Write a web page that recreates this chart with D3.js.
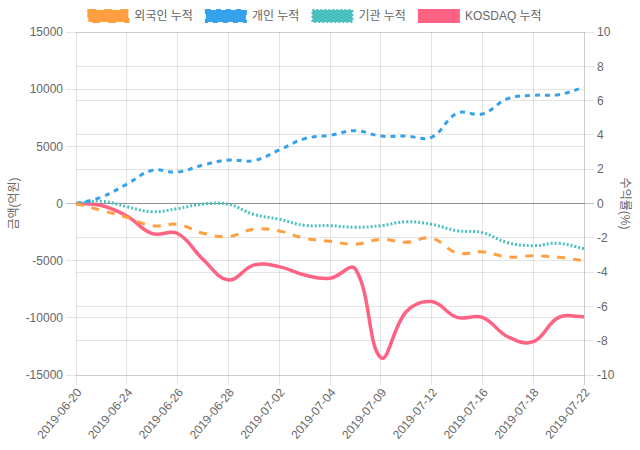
<!DOCTYPE html>
<html><head><meta charset="utf-8">
<script src="https://cdn.jsdelivr.net/npm/d3@7"></script>
<style>
body{margin:0;background:#fff;}
svg{display:block;font-family:"Liberation Sans","Noto Sans CJK KR",Arial,sans-serif;}
</style></head>
<body><svg id="c" width="640" height="450"></svg>
<script>
const dates = ["2019-06-20","2019-06-21","2019-06-24","2019-06-25","2019-06-26","2019-06-27","2019-06-28","2019-07-01","2019-07-02","2019-07-03","2019-07-04","2019-07-05","2019-07-09","2019-07-10","2019-07-12","2019-07-15","2019-07-16","2019-07-17","2019-07-18","2019-07-19","2019-07-22"];
const foreignCum = [0,-600,-1200,-1950,-1820,-2600,-2900,-2250,-2400,-3050,-3300,-3570,-3130,-3390,-3020,-4330,-4220,-4680,-4570,-4710,-5000];
const individualCum = [0,550,1700,2900,2750,3370,3800,3750,4680,5670,5960,6370,5900,5900,5790,7890,7830,9170,9460,9520,10160];
const institutionCum = [0,200,-280,-720,-450,-50,-70,-950,-1380,-1910,-1940,-2080,-1940,-1590,-1820,-2380,-2550,-3430,-3690,-3480,-3950];
const kosdaqCum = [0,-0.12,-0.73,-1.76,-1.75,-3.26,-4.46,-3.59,-3.68,-4.17,-4.36,-3.82,-8.99,-6.31,-5.72,-6.64,-6.64,-7.77,-8.06,-6.64,-6.6];
const leftTicks = [15000,10000,5000,0,-5000,-10000,-15000];
const rightTicks = [10,8,6,4,2,0,-2,-4,-6,-8,-10];
const seriesNames = ["외국인 누적","개인 누적","기관 누적","KOSDAQ 누적"];
const colors = ["rgb(255,159,64)","rgb(54,162,235)","rgb(75,192,192)","rgb(255,99,132)"];

const svg = d3.select("#c");
const L=76,R=584,T=32,B=375;
const x = d3.scalePoint().domain(d3.range(dates.length)).range([L,R]);
const yL = d3.scaleLinear().domain([-15000,15000]).range([B,T]);
const yR = d3.scaleLinear().domain([-10,10]).range([B,T]);
const grid="rgba(0,0,0,0.1)", zero="rgba(0,0,0,0.25)", txt="#666";

leftTicks.forEach(v=>{
  svg.append("line").attr("x1",L-10).attr("x2",R).attr("y1",yL(v)).attr("y2",yL(v))
   .attr("stroke",v===0?zero:grid).attr("stroke-width",1).attr("shape-rendering","crispEdges");
  svg.append("text").attr("x",L-13).attr("y",yL(v)).attr("dy","0.35em").attr("text-anchor","end")
   .attr("font-size",12).attr("fill",txt).text(v);
});
rightTicks.forEach(v=>{
  svg.append("line").attr("x1",L).attr("x2",R+10).attr("y1",yR(v)).attr("y2",yR(v))
   .attr("stroke",v===0?zero:grid).attr("stroke-width",1).attr("shape-rendering","crispEdges");
  svg.append("text").attr("x",R+13).attr("y",yR(v)).attr("dy","0.35em").attr("text-anchor","start")
   .attr("font-size",12).attr("fill",txt).text(v);
});
const shown = d3.range(0,dates.length,2);
shown.forEach(i=>{
  svg.append("line").attr("x1",x(i)).attr("x2",x(i)).attr("y1",T).attr("y2",B+10)
   .attr("stroke",grid).attr("shape-rendering","crispEdges");
  svg.append("text").attr("transform",`translate(${x(i)+3},${B+15}) rotate(-50)`)
   .attr("text-anchor","end").attr("dy","0.35em").attr("font-size",12).attr("fill",txt).text(dates[i]);
});
svg.append("line").attr("x1",R).attr("x2",R).attr("y1",T).attr("y2",B+10).attr("stroke",grid).attr("shape-rendering","crispEdges");

svg.append("text").attr("transform",`translate(18,${(T+B)/2}) rotate(-90)`).attr("text-anchor","middle")
  .attr("font-size",12).attr("fill",txt).text("금액(억원)");
svg.append("text").attr("transform",`translate(621,${(T+B)/2}) rotate(90)`).attr("text-anchor","middle")
  .attr("font-size",12).attr("fill",txt).text("수익률(%)");

function pathFor(vals, ys){
  const pts = vals.map((v,i)=>({x:x(i),y:ys(v)}));
  const t=0.4;
  pts.forEach((p,i)=>{
    const p0=pts[i-1]||p, p2=pts[i+1]||p;
    const d01=Math.hypot(p.x-p0.x,p.y-p0.y), d12=Math.hypot(p2.x-p.x,p2.y-p.y);
    let s01=d01/(d01+d12), s12=d12/(d01+d12);
    if(isNaN(s01)) s01=0; if(isNaN(s12)) s12=0;
    const fa=t*s01, fb=t*s12;
    p.px=p.x-fa*(p2.x-p0.x); p.py=p.y-fa*(p2.y-p0.y);
    p.nx=p.x+fb*(p2.x-p0.x); p.ny=p.y+fb*(p2.y-p0.y);
    p.px=Math.max(L,Math.min(R,p.px)); p.nx=Math.max(L,Math.min(R,p.nx));
    p.py=Math.max(T,Math.min(B,p.py)); p.ny=Math.max(T,Math.min(B,p.ny));
  });
  const path=d3.path();
  path.moveTo(pts[0].x,pts[0].y);
  for(let i=1;i<pts.length;i++){
    path.bezierCurveTo(pts[i-1].nx,pts[i-1].ny,pts[i].px,pts[i].py,pts[i].x,pts[i].y);
  }
  return path.toString();
}
const series=[
  {vals:foreignCum, ys:yL, dash:"8,8", w:3},
  {vals:individualCum, ys:yL, dash:"5,5", w:3},
  {vals:institutionCum, ys:yL, dash:"2,2", w:3},
  {vals:kosdaqCum, ys:yR, dash:null, w:3.5}
];
for(let k=series.length-1;k>=0;k--){
  const s=series[k];
  svg.append("path").attr("d",pathFor(s.vals,s.ys)).attr("fill","none")
    .attr("stroke",colors[k]).attr("stroke-width",s.w).attr("stroke-dasharray",s.dash)
    .attr("stroke-linejoin","round");
}

const lg=svg.append("g");
const items=seriesNames.map((n,k)=>{
  const g=lg.append("g");
  const tx=g.append("text").attr("x",46).attr("y",16).attr("dy","0.35em").attr("font-size",12).attr("fill",txt).text(n);
  g.insert("rect","text").attr("x",0).attr("y",10).attr("width",40).attr("height",12)
    .attr("fill",colors[k]).attr("stroke",colors[k]).attr("stroke-width",2).attr("stroke-dasharray",series[k].dash);
  return {g,w:46+tx.node().getComputedTextLength()+13};
});
const total=d3.sum(items,d=>d.w);
let cx=(640-total+3)/2;
items.forEach(it=>{it.g.attr("transform",`translate(${cx},0)`);cx+=it.w;});
</script></body></html>
